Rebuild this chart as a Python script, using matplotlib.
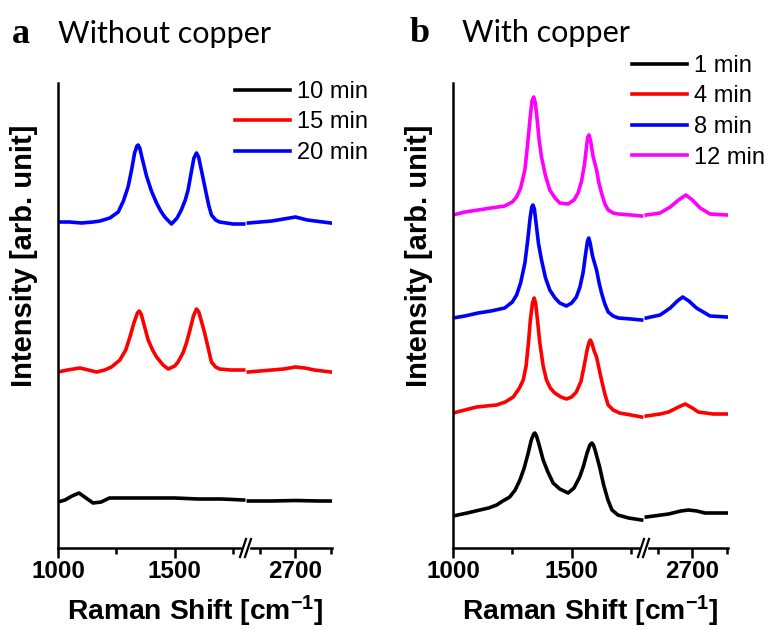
import matplotlib
matplotlib.use("Agg")
import matplotlib.pyplot as plt
from matplotlib.lines import Line2D

plt.rcParams['font.family'] = ['Liberation Sans', 'DejaVu Sans']
plt.rcParams['mathtext.fontset'] = 'custom'
plt.rcParams['mathtext.rm'] = 'Liberation Sans:bold'
plt.rcParams['mathtext.it'] = 'Liberation Sans:bold'
plt.rcParams['mathtext.bf'] = 'Liberation Sans:bold'

# ---------------- data ----------------
# Panel a : Without copper
a_labels = ["10 min", "15 min", "20 min"]
a_colors = ["black", "red", "blue"]

a10_x_lo = [1000, 1030, 1060, 1090, 1120, 1150, 1185, 1220, 1300, 1400, 1500, 1600, 1700, 1795]
a10_y_lo = [46, 48, 52, 55, 50, 45, 46, 50, 50, 50, 50, 49, 49, 48]
a10_x_hi = [2500, 2600, 2700, 2800, 2850]
a10_y_hi = [47, 47, 47.5, 47, 47]

a15_x_lo = [1000, 1040, 1094, 1130, 1165, 1200, 1229, 1265, 1290, 1308, 1325, 1340, 1348, 1356,
            1370, 1386, 1405, 1422, 1450, 1472, 1500, 1514, 1535, 1550, 1565, 1580, 1593, 1603,
            1615, 1628, 1645, 1657, 1675, 1692, 1740, 1795]
a15_y_lo = [176, 178, 180, 178, 176, 178, 181, 188, 198, 211, 225, 235, 237, 234,
            222, 208, 198, 191, 183, 179, 182, 186, 195, 205, 218, 232, 239, 236,
            226, 215, 198, 186, 181, 179, 178, 178]
a15_x_hi = [2500, 2600, 2650, 2700, 2740, 2780, 2850]
a15_y_hi = [176, 178, 179, 181, 180, 178, 176]

a20_x_lo = [1000, 1050, 1100, 1150, 1180, 1222, 1258, 1280, 1300, 1315, 1328, 1338, 1343, 1350,
            1360, 1379, 1400, 1422, 1440, 1457, 1486, 1510, 1528, 1545, 1557, 1570, 1582, 1593,
            1602, 1612, 1628, 1645, 1657, 1675, 1692, 1750, 1795]
a20_y_lo = [326, 326, 325, 326, 327, 330, 336, 347, 361, 378, 395, 402, 403, 400,
            390, 372, 357, 345, 337, 331, 324, 330, 338, 348, 358, 375, 390, 395,
            391, 380, 362, 343, 333, 328, 326, 324, 324]
a20_x_hi = [2500, 2600, 2650, 2700, 2750, 2850]
a20_y_hi = [325, 327, 329, 331, 328, 325]

# Panel b : With copper
b_labels = ["1 min", "4 min", "8 min", "12 min"]
b_colors = ["black", "red", "blue", "magenta"]

b1_x_lo = [1000, 1060, 1113, 1150, 1184, 1210, 1239, 1262, 1282, 1300, 1317, 1330, 1340, 1345,
           1352, 1362, 1380, 1400, 1422, 1450, 1485, 1510, 1534, 1550, 1565, 1577, 1585, 1592,
           1600, 1618, 1635, 1653, 1670, 1695, 1740, 1795]
b1_y_lo = [32, 35, 38, 40, 43, 47, 51, 58, 68, 80, 95, 108, 114, 115,
           112, 104, 88, 76, 65, 59, 55, 60, 71, 82, 95, 103, 105, 103,
           97, 81, 63, 48, 38, 33, 30, 28]
b1_x_hi = [2500, 2597, 2650, 2683, 2720, 2755, 2850]
b1_y_hi = [31, 34, 37, 38, 37, 35, 35]

b4_x_lo = [1000, 1050, 1100, 1140, 1184, 1220, 1254, 1280, 1296, 1308, 1318, 1326, 1335, 1342,
           1348, 1356, 1366, 1380, 1394, 1410, 1429, 1455, 1478, 1500, 1520, 1540, 1555, 1566,
           1574, 1579, 1585, 1595, 1605, 1615, 1626, 1640, 1654, 1675, 1702, 1750, 1795]
b4_y_lo = [135, 138, 141, 142, 143, 146, 151, 160, 168, 182, 205, 228, 245, 250,
           245, 228, 205, 182, 168, 160, 155, 151, 149, 151, 156, 167, 185, 199,
           206, 208, 205, 197, 191, 180, 168, 154, 143, 138, 135, 133, 131]
b4_x_hi = [2500, 2560, 2597, 2640, 2669, 2700, 2726, 2790, 2850]
b4_y_hi = [132, 134, 136, 141, 144, 140, 136, 134, 134]

b8_x_lo = [1000, 1050, 1106, 1160, 1218, 1250, 1268, 1285, 1303, 1315, 1325, 1332, 1337, 1343,
           1350, 1360, 1373, 1390, 1408, 1430, 1450, 1478, 1500, 1520, 1535, 1548, 1560, 1567,
           1572, 1578, 1588, 1605, 1615, 1626, 1640, 1654, 1675, 1697, 1750, 1795]
b8_y_lo = [230, 232, 235, 237, 240, 246, 253, 265, 285, 308, 330, 341, 343, 339,
           325, 305, 288, 270, 258, 250, 245, 242, 245, 251, 261, 275, 296, 307,
           310, 305, 292, 278, 266, 255, 244, 236, 232, 230, 229, 228]
b8_x_hi = [2500, 2560, 2604, 2635, 2658, 2685, 2718, 2777, 2850]
b8_y_hi = [230, 233, 240, 247, 251, 247, 240, 232, 231]

b12_x_lo = [1000, 1050, 1106, 1160, 1218, 1250, 1268, 1285, 1303, 1315, 1325, 1333, 1340, 1347,
            1355, 1363, 1373, 1390, 1408, 1430, 1450, 1485, 1510, 1527, 1542, 1555, 1563, 1568,
            1573, 1580, 1590, 1605, 1615, 1626, 1640, 1654, 1675, 1697, 1750, 1795]
b12_y_lo = [333, 336, 338, 340, 342, 346, 351, 360, 378, 405, 430, 447, 451, 445,
            428, 408, 391, 372, 358, 350, 345, 344, 348, 355, 367, 385, 402, 411,
            413, 407, 392, 378, 365, 355, 344, 338, 335, 334, 333, 332]
b12_x_hi = [2500, 2560, 2604, 2640, 2672, 2700, 2734, 2777, 2850]
b12_y_hi = [333, 335, 341, 348, 353, 348, 340, 334, 333]

lo_major = [1000, 1500]
lo_minor = [1250, 1750]
hi_major = [2700]
hi_minor = [2550, 2850]
lo_lim = (1000, 1805)
hi_lim = (2490, 2855)
y_lim = (0, 465)

# ---------------- figure ----------------
W, H = 769, 630
fig = plt.figure(figsize=(W / 100, H / 100), dpi=100)

def fx(px):
    return px / W

def fy(py):
    return 1 - py / H

LW = 2.6
SPW = 1.8

def make_panel(x0, xb, x1, curves, labels, colors, leg_anchor):
    bottom = fy(548)
    height = fy(83) - fy(548)
    ax_lo = fig.add_axes([fx(x0), bottom, fx(xb) - fx(x0), height])
    ax_hi = fig.add_axes([fx(xb), bottom, fx(x1) - fx(xb), height])
    handles = []
    for (xl, yl, xh, yh), lab, col in zip(curves, labels, colors):
        h, = ax_lo.plot(xl, yl, color=col, lw=LW, label=lab, solid_joinstyle='round')
        ax_hi.plot(xh, yh, color=col, lw=LW, solid_joinstyle='round')
        handles.append(h)
    for ax in (ax_lo, ax_hi):
        ax.set_ylim(*y_lim)
        ax.set_yticks([])
        ax.spines['top'].set_visible(False)
        ax.spines['right'].set_visible(False)
        ax.spines['bottom'].set_linewidth(SPW)
        ax.spines['left'].set_linewidth(SPW)
        ax.tick_params(axis='x', which='major', direction='out', length=7, width=SPW,
                       labelsize=17.5, pad=2)
        ax.tick_params(axis='x', which='minor', direction='out', length=4, width=SPW)
        ax.patch.set_alpha(0)
    ax_hi.spines['left'].set_visible(False)
    ax_lo.set_xlim(*lo_lim)
    ax_hi.set_xlim(*hi_lim)
    ax_lo.set_xticks(lo_major)
    ax_lo.set_xticks(lo_minor, minor=True)
    ax_hi.set_xticks(hi_major)
    ax_hi.set_xticks(hi_minor, minor=True)
    ax_lo.set_xticklabels([str(v) for v in lo_major], fontweight='bold')
    ax_hi.set_xticklabels([str(v) for v in hi_major], fontweight='bold')
    # break marks
    y0 = 548
    fig.add_artist(plt.Rectangle((fx(xb - 3), fy(y0 + 2)), fx(6), fy(y0 - 2) - fy(y0 + 2),
                                 transform=fig.transFigure, color='white', zorder=5))
    for dx in (-3, 2):
        fig.add_artist(Line2D([fx(xb + dx - 3), fx(xb + dx + 3)], [fy(y0 + 9), fy(y0 - 9)],
                              transform=fig.transFigure, color='black', lw=1.6, zorder=6))
    leg = ax_lo.legend(handles=handles, loc='upper left', bbox_to_anchor=leg_anchor,
                       bbox_transform=fig.transFigure, frameon=False, fontsize=17,
                       handlelength=2.33, handletextpad=0.3, labelspacing=0.36,
                       borderpad=0, borderaxespad=0)
    for l in leg.get_lines():
        l.set_linewidth(LW)
    # labels
    fig.text(fx((x0 + x1) / 2), fy(620), r"Raman Shift [cm$^{\mathbf{-1}}$]", ha='center',
             va='baseline', fontsize=20.3, fontweight='bold')
    fig.text(fx(x0 - 34), fy(256), "Intensity [arb. unit]", ha='center', va='center',
             rotation=90, fontsize=21, fontweight='bold')
    return ax_lo, ax_hi

make_panel(58, 246, 332,
           [(a10_x_lo, a10_y_lo, a10_x_hi, a10_y_hi),
            (a15_x_lo, a15_y_lo, a15_x_hi, a15_y_hi),
            (a20_x_lo, a20_y_lo, a20_x_hi, a20_y_hi)],
           a_labels, a_colors, (fx(235), fy(81)))
make_panel(453, 644, 728,
           [(b1_x_lo, b1_y_lo, b1_x_hi, b1_y_hi),
            (b4_x_lo, b4_y_lo, b4_x_hi, b4_y_hi),
            (b8_x_lo, b8_y_lo, b8_x_hi, b8_y_hi),
            (b12_x_lo, b12_y_lo, b12_x_hi, b12_y_hi)],
           b_labels, b_colors, (fx(632), fy(55)))

# panel titles
fig.text(fx(12), fy(43), "a", fontsize=26, fontweight='bold', family='Liberation Serif',
         va='baseline')
fig.text(fx(58), fy(43), "Without copper", fontsize=22, family='Lato', va='baseline')
fig.text(fx(410), fy(42), "b", fontsize=26, fontweight='bold', family='Liberation Serif',
         va='baseline')
fig.text(fx(462), fy(42), "With copper", fontsize=22, family='Lato', va='baseline')

fig.savefig("out.png", dpi=100)
